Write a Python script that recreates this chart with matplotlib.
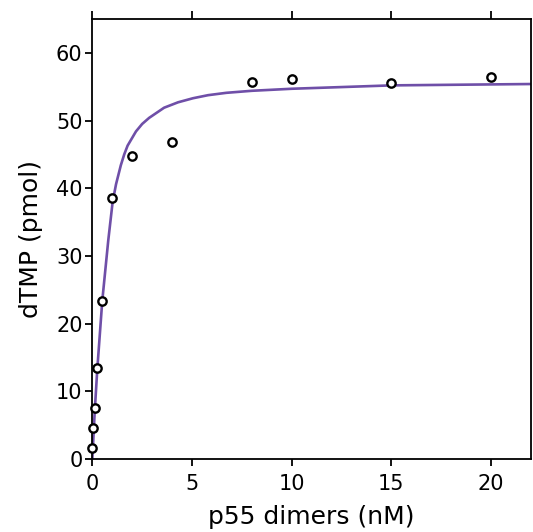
import matplotlib
matplotlib.use("Agg")
import matplotlib.pyplot as plt

# measured data points
conc_nM = [0.0, 0.02, 0.12, 0.25, 0.5, 1.0, 2.0, 4.0, 8.0, 10.0, 15.0, 20.0]
dtmp_pmol = [1.7, 4.6, 7.6, 13.5, 23.4, 38.5, 44.8, 46.8, 55.7, 56.1, 55.6, 56.5]

# fitted curve
fit_x = [0.0, 0.12, 0.25, 0.5, 0.8, 1.02, 1.19, 1.43, 1.6, 1.77, 2.19, 2.5, 2.85,
         3.6, 4.3, 5.05, 5.8, 6.72, 8.0, 10.0, 15.0, 22.0]
fit_y = [0.0, 7.0, 13.3, 23.4, 32.3, 38.0, 40.6, 43.4, 45.0, 46.3, 48.4, 49.5, 50.4,
         51.9, 52.7, 53.3, 53.75, 54.1, 54.4, 54.7, 55.2, 55.4]

x_ticks = [0, 5, 10, 15, 20]
y_ticks = [0, 10, 20, 30, 40, 50, 60]

plt.rcParams['font.family'] = ['DejaVu Sans']

fig = plt.figure(figsize=(5.33, 5.32), dpi=100)
ax = fig.add_axes([0.1732, 0.1372, 0.823, 0.827])

ax.plot(fit_x, fit_y, color='#6f4fa8', lw=1.9, zorder=2, solid_joinstyle='round')
ax.plot(conc_nM, dtmp_pmol, linestyle='none', marker='o', ms=6, mfc='white',
        mec='black', mew=1.7, zorder=3, clip_on=False)

ax.set_xlim(0, 22)
ax.set_ylim(0, 65)
ax.set_xticks(x_ticks)
ax.set_yticks(y_ticks)
ax.tick_params(axis='both', direction='out', length=5, width=1.3, labelsize=15, pad=2)
ax.tick_params(axis='x', bottom=True, top=True, labeltop=False, pad=6)
ax.xaxis.set_tick_params(which='major', length=5)
for t in ax.xaxis.get_major_ticks():
    t.tick2line.set_markersize(6)
for s in ax.spines.values():
    s.set_linewidth(1.3)

ax.set_xlabel('p55 dimers (nM)', fontsize=18, labelpad=8)
ax.set_ylabel('dTMP (pmol)', fontsize=18, labelpad=9.5)

fig.savefig('out.png', dpi=100)
